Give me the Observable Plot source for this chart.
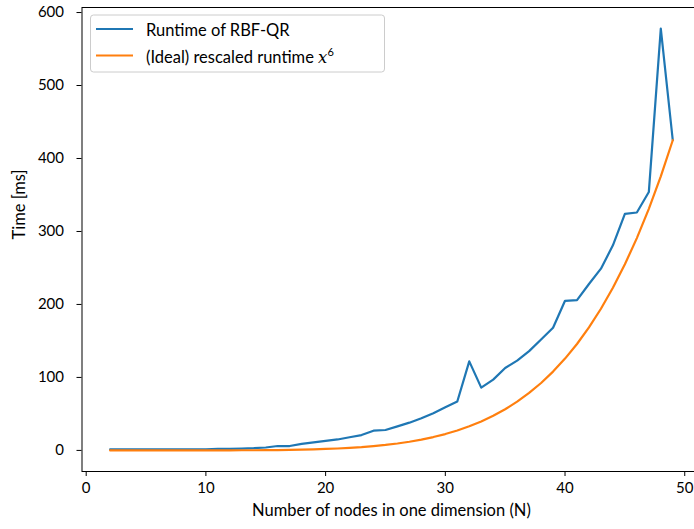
<!DOCTYPE html>
<html><head><meta charset="utf-8">
<script src="https://cdn.jsdelivr.net/npm/d3@7"></script>
<script src="https://cdn.jsdelivr.net/npm/@observablehq/plot@0.6"></script>
<style>body{margin:0;background:#fff} svg{font-family:Lato,sans-serif}</style>
</head><body><div id="chart"></div>
<script>
const nodes = [2,3,4,5,6,7,8,9,10,11,12,13,14,15,16,17,18,19,20,21,22,23,24,25,26,27,28,29,30,31,32,33,34,35,36,37,38,39,40,41,42,43,44,45,46,47,48,49];
const runtimeRBFQR = [1.5,1.5,1.5,1.5,1.5,1.5,1.5,1.5,1.5,2,2,2.5,3,4,6,6,9,11,13,15,18,21,27,28,33,38,44,51,59,67,122,86,97,113,123,136,152,168,205,206,228,249,281,324,326,354,578,425];
const idealRuntime = [0,0,0,0,0,0,0,0,0,0.1,0.1,0.2,0.2,0.4,0.5,0.7,1,1.4,2,2.6,3.5,4.5,5.9,7.5,9.5,11.9,14.8,18.3,22.4,27.2,33,39.7,47.4,56.4,66.8,78.8,92.4,108,125.8,145.8,168.5,194.1,222.8,255,290.9,331,375.5,425];
const xTicks = [0,10,20,30,40,50];
const yTicks = [0,100,200,300,400,500,600];
const seriesNames = ["Runtime of RBF-QR", "(Ideal) rescaled runtime "];
const seriesColors = ["#1f77b4", "#ff7f0e"];
const xLabel = "Number of nodes in one dimension (N)";
const yLabel = "Time [ms]";

const rows = nodes.map((n, i) => ({n, rbf: runtimeRBFQR[i], ideal: idealRuntime[i]}));

const chart = Plot.plot({
  width: 694, height: 529,
  marginLeft: 81.5, marginRight: -6.4, marginTop: 7, marginBottom: 58,
  style: {fontFamily: "Lato, sans-serif", fontSize: "15px", color: "#000", background: "#fff", overflow: "hidden"},
  x: {domain: [-0.35, 51.35]},
  y: {domain: [-28.9, 606.9]},
  marks: [
    Plot.axisX({ticks: xTicks, tickSize: 5, tickPadding: 6, label: null, fontSize: 15, tickFormat: d => String(d)}),
    Plot.axisY({ticks: yTicks, tickSize: 5, tickPadding: 13, label: null, fontSize: 15, tickFormat: d => String(d)}),
    Plot.line(rows, {x: "n", y: "rbf", stroke: seriesColors[0], strokeWidth: 2.2}),
    Plot.line(rows, {x: "n", y: "ideal", stroke: seriesColors[1], strokeWidth: 2.2}),
    Plot.frame({stroke: "#000", strokeWidth: 1}),
    Plot.text([xLabel], {frameAnchor: "bottom", dy: 44, text: d => d, fontSize: 16.5}),
    Plot.text([yLabel], {frameAnchor: "left", rotate: -90, dx: -62, text: d => d, fontSize: 16.5})
  ]
});

const svg = d3.select(chart);
const lg = svg.append("g").attr("font-family", "Lato, sans-serif").attr("font-size", 16.5).attr("text-anchor", "start");
lg.append("rect").attr("x", 90.5).attr("y", 15).attr("width", 294).attr("height", 57).attr("rx", 3)
  .attr("fill", "#fff").attr("fill-opacity", 0.8).attr("stroke", "#ccc").attr("stroke-width", 1);
const rowsY = [29, 55.5];
seriesNames.forEach((name, i) => {
  lg.append("line").attr("x1", 96).attr("x2", 133).attr("y1", rowsY[i]).attr("y2", rowsY[i])
    .attr("stroke", seriesColors[i]).attr("stroke-width", 2.2);
  const t = lg.append("text").attr("x", 146).attr("y", rowsY[i] + 7).attr("text-anchor", "start").text(name);
  if (i === 1) {
    t.append("tspan").attr("font-family", "DejaVu Serif, serif").attr("font-style", "italic").text("x");
    t.append("tspan").attr("font-size", 11).attr("dy", -7).text("6");
  }
});

document.getElementById("chart").appendChild(chart);
</script>
</body></html>
